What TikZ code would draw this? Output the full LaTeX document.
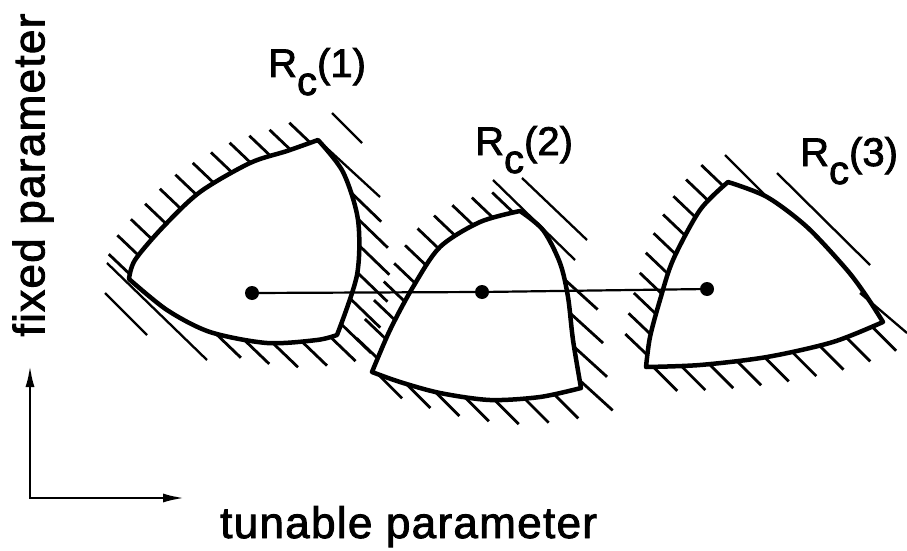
\documentclass[tikz,border=0pt]{standalone}
\usepackage{fontspec}
\setmainfont{Liberation Sans}
\usetikzlibrary{arrows.meta,decorations.markings}

\newcommand{\Rc}[1]{R\raisebox{-0.45em}{c}(#1)}

\begin{document}
\begin{tikzpicture}[
  x=1pt, y=1pt,
  region/.style={draw, fill=white, line width=4.5pt, line join=round},
  hatchline/.style={line width=2.8pt},
  tangent/.style={line width=2.3pt},
  hatch/.style n args={4}{postaction={decorate}, decoration={markings,
    mark=between positions #1 and #2 step #3 with {\pgftransformresetnontranslations
      \draw[hatchline] (0,0) -- #4;}}},
  dot/.style={circle, fill, inner sep=0pt, minimum size=14pt},
  link/.style={line width=2.2pt},
  axis/.style={line width=2.8pt, {Latex[length=22pt,width=9pt]}-{Latex[length=22pt,width=9pt]}},
  axislabel/.style={font=\fontsize{44}{50}\selectfont\addfontfeature{LetterSpace=3,FakeBold=2}, inner sep=0pt},
  rlabel/.style={font=\fontsize{40}{46}\selectfont\addfontfeature{FakeBold=2}, inner sep=0pt, anchor=base west}
]
\useasboundingbox (0,0) rectangle (907,550);

% region 1
\filldraw[region] plot[smooth] coordinates {(129,271) (135,290) (163,323) (200,358) (250,387) (287,399) (318,410)}
  -- plot[smooth] coordinates {(318,410) (343,378) (358,330) (357,275) (337,215)}
  -- plot[smooth] coordinates {(337,215) (317,210) (267,207) (210,218) (167,240) (129,271)} -- cycle;
\path[hatch={0.02}{0.98}{21pt}{(-21,20)}] plot[smooth] coordinates {(129,271) (135,290) (163,323) (200,358) (250,387) (287,399) (318,410)};
\path[hatch={0.3}{0.97}{27pt}{(30,-29)}] plot[smooth] coordinates {(318,410) (343,378) (358,330) (357,275) (337,215)};
\path[hatch={0.03}{0.55}{29pt}{(25,-24)}] plot[smooth] coordinates {(337,215) (317,210) (267,207) (210,218) (167,240) (129,271)};
\draw[tangent] (107,287) -- (207,190);
\draw[tangent] (105,257) -- (147,215);
\draw[tangent] (332,437) -- (362,407);
\draw[tangent] (318,410) -- (380,353);

% region 2
\filldraw[region] plot[smooth] coordinates {(520,339) (480,328) (440,303) (413,263) (390,220) (372,178)}
  -- plot[smooth] coordinates {(372,178) (400,168) (440,157) (490,150) (540,153) (581,162)}
  -- plot[smooth] coordinates {(581,162) (573,210) (568,253) (560,287) (543,320) (520,339)} -- cycle;
\path[hatch={0.03}{0.97}{21pt}{(-21,20)}] plot[smooth] coordinates {(520,339) (480,328) (440,303) (413,263) (390,220) (372,178)};
\path[hatch={0.03}{0.97}{30pt}{(24,-24)}] plot[smooth] coordinates {(372,178) (400,168) (440,157) (490,150) (540,153) (581,162)};
\path[hatch={0.04}{0.6}{34pt}{(33,-30)}] plot[smooth] coordinates {(581,162) (573,210) (568,253) (560,287) (543,320) (520,339)};
\draw[tangent] (522,372) -- (587,310);
\draw[tangent] (493,370) -- (575,290);

% region 3
\filldraw[region] plot[smooth] coordinates {(728,368) (700,340) (673,290) (660,250) (650,213) (646,183)}
  -- plot[smooth] coordinates {(646,183) (700,185) (767,193) (833,208) (883,228)}
  -- plot[smooth] coordinates {(883,228) (867,253) (847,280) (807,323) (767,353) (728,368)} -- cycle;
\path[hatch={0.03}{0.97}{21pt}{(-22,21)}] plot[smooth] coordinates {(728,368) (700,340) (673,290) (660,250) (650,213) (646,183)};
\path[hatch={0.03}{0.97}{28pt}{(24,-24)}] plot[smooth] coordinates {(646,183) (700,185) (767,193) (833,208) (883,228)};
\draw[tangent] (725,395) -- (767,353);
\draw[tangent] (777,377) -- (870,285);
\draw[tangent] (860,257) -- (907,217);

% centres
\node[dot] (c1) at (252,257) {};
\node[dot] (c2) at (482,258) {};
\node[dot] (c3) at (707,261) {};
\draw[link] (c1) -- (c2) -- (c3);

\node[rlabel] (rc1) at (268,473) {\Rc{1}};
\node[rlabel] (rc2) at (475,395) {\Rc{2}};
\node[rlabel] (rc3) at (800,384) {\Rc{3}};

% axes
\coordinate (ytip) at (30,185);
\coordinate (xtip) at (185,52);
\draw[axis] (ytip) |- (xtip);
\node[axislabel, rotate=90] (fixed) at (33,375) {fixed parameter};
\node[axislabel, anchor=base west] (tunable) at (220,12) {tunable parameter};

\end{tikzpicture}
\end{document}
